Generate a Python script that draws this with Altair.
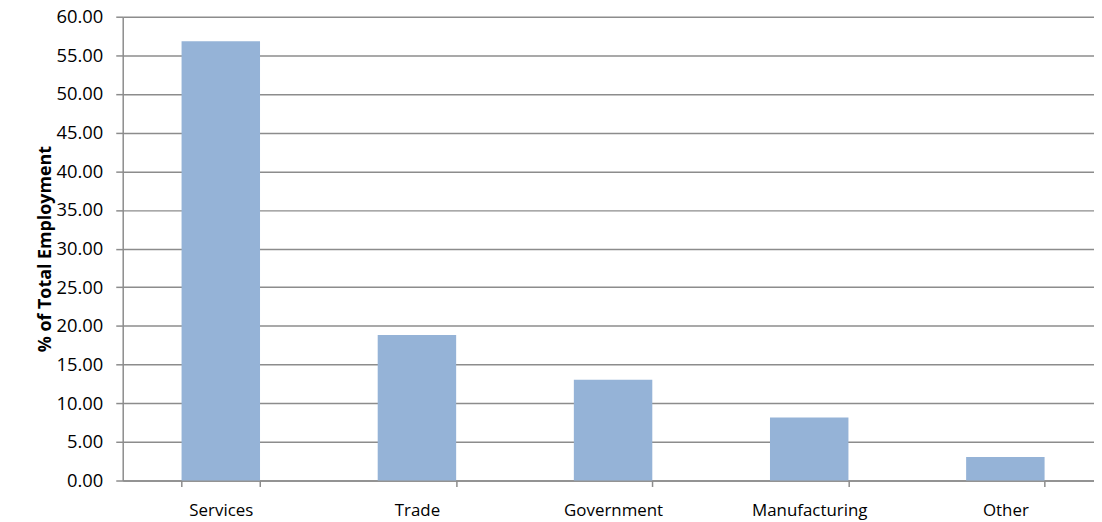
import altair as alt
import pandas as pd

categories = ["Services", "Trade", "Government", "Manufacturing", "Other"]
values = [56.83, 18.83, 13.05, 8.14, 3.04]
y_ticks = [0, 5, 10, 15, 20, 25, 30, 35, 40, 45, 50, 55, 60]

df = pd.DataFrame({"category": categories, "value": values})

FONT = "Open Sans"
GRID = "#8c8c8c"

chart = alt.Chart(df).mark_bar(color="#95B3D7").encode(
    x=alt.X(
        "category:N",
        sort=categories,
        scale=alt.Scale(paddingInner=0.6, paddingOuter=0.276, align=0.5436),
        axis=alt.Axis(
            title=None, labelAngle=0, tickBand="extent", grid=False,
            tickSize=6, tickColor=GRID, tickWidth=1.5,
            domainColor=GRID, domainWidth=1.5,
            labelFont=FONT, labelFontSize=17, labelColor="#000000",
            labelPadding=16,
        ),
    ),
    y=alt.Y(
        "value:Q",
        scale=alt.Scale(domain=[0, 60], nice=False),
        axis=alt.Axis(
            title="% of Total Employment", values=y_ticks, format=".2f",
            grid=True, gridColor=GRID, gridWidth=1.5,
            tickSize=7, tickColor=GRID, tickWidth=1.5,
            domainColor=GRID, domainWidth=1.5,
            labelFont=FONT, labelFontSize=18.5, labelColor="#000000",
            labelPadding=13,
            titleFont=FONT, titleFontSize=18, titleFontWeight="bold",
            titleColor="#000000", titlePadding=2,
        ),
    ),
).properties(
    width=978,
    height=467,
    autosize=alt.AutoSizeParams(type="none"),
    padding={"left": 115.5, "top": 7, "right": 0, "bottom": 40},
).configure_view(stroke=None)

chart.save("out.html", embed_options={"renderer": "svg", "actions": False})
